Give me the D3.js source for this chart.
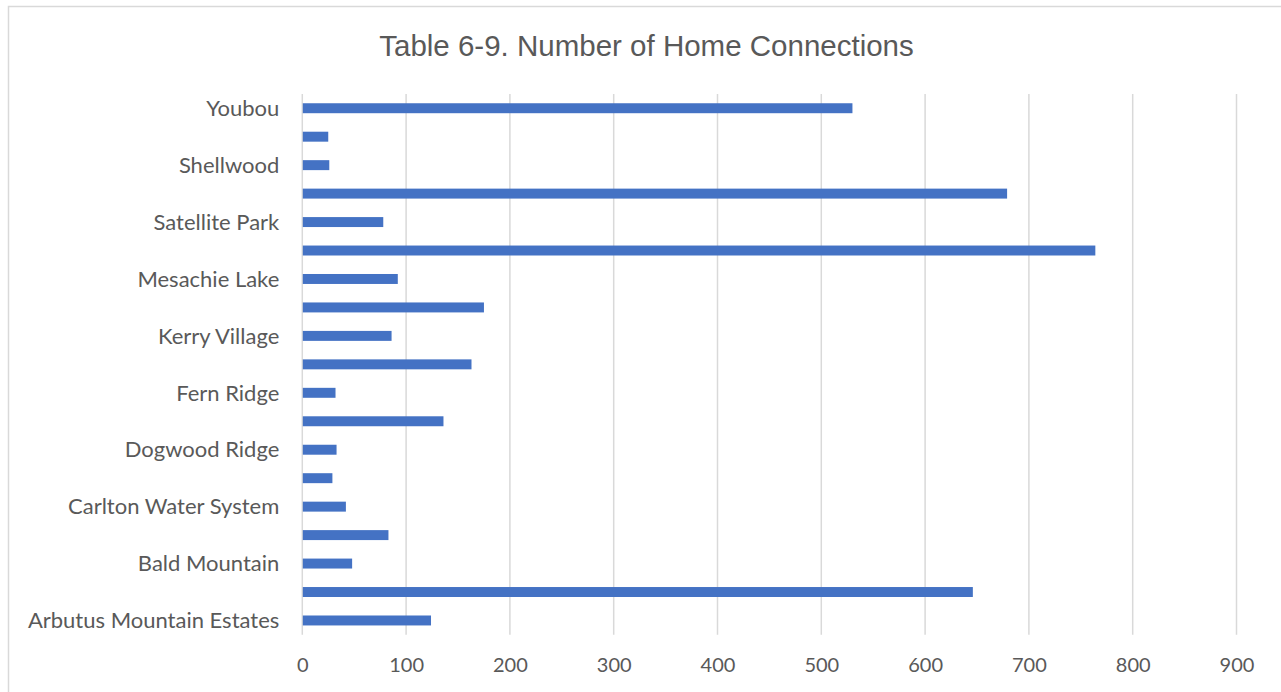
<!DOCTYPE html>
<html>
<head>
<meta charset="utf-8">
<script src="https://cdn.jsdelivr.net/npm/d3@7"></script>
<style>
  body { margin: 0; background: #fff; }
  .tick text { fill: #595959; font-family: Lato, "Open Sans", sans-serif; font-size: 20px; }
  .cat-label { fill: #595959; font-family: Lato, "Open Sans", sans-serif; font-size: 22px; }
  .title { fill: #595959; font-family: "Liberation Sans", Arial, sans-serif; font-size: 29.5px; }
</style>
</head>
<body>
<svg id="chart" width="1281" height="692"></svg>
<script>
// categories in Excel order (bottom to top); only every other label is shown
var categories = ["Arbutus Mountain Estates", "Arbutus Ridge", "Bald Mountain", "Burnum",
  "Carlton Water System", "Cherry Point Estates", "Dogwood Ridge", "Douglas Hill",
  "Fern Ridge", "Honeymoon Bay", "Kerry Village", "Lambourn Estates", "Mesachie Lake",
  "Mill Bay", "Satellite Park", "Shawnigan Lake North", "Shellwood", "Woodley Range", "Youbou"];
var connections = [124, 646, 48, 83, 42, 29, 33, 136, 32, 163, 86, 175, 92, 764, 78, 679, 26, 25, 530];
var xTicks = [0, 100, 200, 300, 400, 500, 600, 700, 800, 900];
var chartTitle = "Table 6-9. Number of Home Connections";

var data = categories.map(function(c, i) {
  return {name: c, value: connections[i], idx: i};
});

var svg = d3.select("#chart");
var plot = {left: 302.3, right: 1236.5, top: 94, bottom: 634.7};

// chart area border (runs off the right and bottom edges)
svg.append("rect")
   .attr("x", 8.5).attr("y", 6.5)
   .attr("width", 1400).attr("height", 800)
   .attr("fill", "#fff")
   .attr("stroke", "#d9d9d9")
   .attr("stroke-width", 1.5);

svg.append("text")
   .attr("class", "title")
   .attr("x", 646.5).attr("y", 56)
   .attr("text-anchor", "middle")
   .text(chartTitle);

var xScale = d3.scaleLinear()
               .domain([0, 900])
               .range([plot.left, plot.right]);

var yScale = d3.scaleBand()
               .domain(categories.slice().reverse())
               .range([plot.top, plot.bottom])
               .paddingInner(0.65)
               .paddingOuter(0.325);

// vertical gridlines
svg.append("g")
   .selectAll("line")
   .data(xTicks)
   .enter().append("line")
   .attr("x1", function(d){ return xScale(d); })
   .attr("x2", function(d){ return xScale(d); })
   .attr("y1", plot.top)
   .attr("y2", plot.bottom)
   .attr("stroke", "#d9d9d9")
   .attr("stroke-width", 1.5);

// x axis labels only, no domain line or ticks
var xAxis = d3.axisBottom(xScale)
              .tickValues(xTicks)
              .tickSize(0)
              .tickPadding(0)
              .tickFormat(d3.format("d"));

svg.append("g")
   .attr("transform", "translate(0," + (plot.bottom + 23.5) + ")")
   .call(xAxis)
   .call(function(g){ g.select(".domain").remove(); });

svg.append("g")
   .selectAll("rect")
   .data(data)
   .enter().append("rect")
   .attr("x", xScale(0) + 0.5)
   .attr("y", function(d){ return yScale(d.name); })
   .attr("width", function(d){ return xScale(d.value) - xScale(0) - 0.5; })
   .attr("height", yScale.bandwidth())
   .attr("fill", "#4472c4");

// Excel skips every second category label for lack of room
svg.append("g")
   .selectAll("text")
   .data(data.filter(function(d){ return d.idx % 2 === 0; }))
   .enter().append("text")
   .attr("class", "cat-label")
   .attr("x", plot.left - 23)
   .attr("y", function(d){ return yScale(d.name) + yScale.bandwidth() / 2; })
   .attr("dy", "0.35em")
   .attr("text-anchor", "end")
   .text(function(d){ return d.name; });
</script>
</body>
</html>
